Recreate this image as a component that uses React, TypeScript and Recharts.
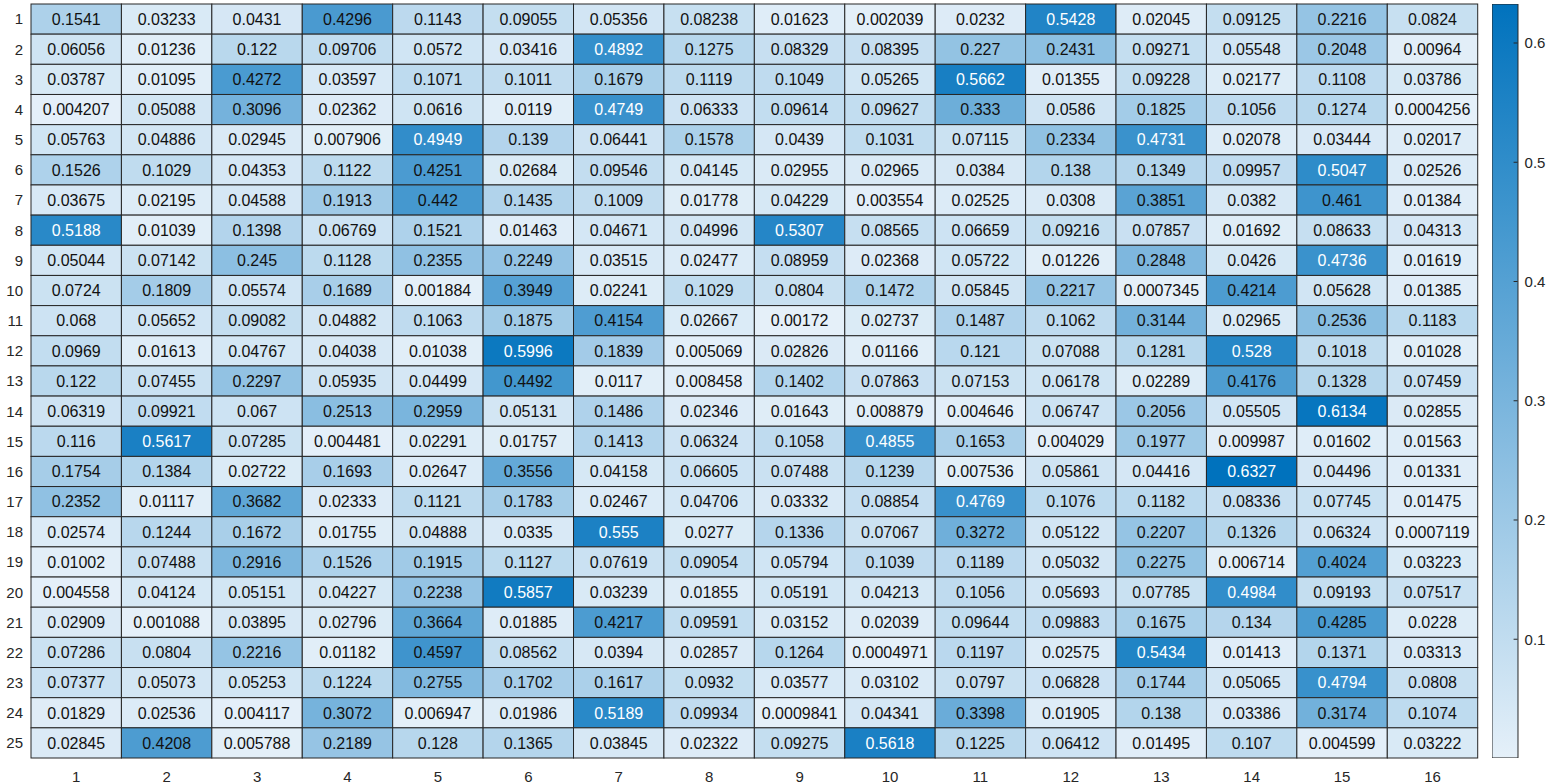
import { ScatterChart, Scatter, XAxis, YAxis, BarChart, Bar } from 'recharts'

const colLabels = [1, 2, 3, 4, 5, 6, 7, 8, 9, 10, 11, 12, 13, 14, 15, 16]
const rowLabels = [1, 2, 3, 4, 5, 6, 7, 8, 9, 10, 11, 12, 13, 14, 15, 16, 17, 18, 19, 20, 21, 22, 23, 24, 25]
const colorbarTicks = [0.1, 0.2, 0.3, 0.4, 0.5, 0.6]

const r1 = [0.1541, 0.03233, 0.0431, 0.4296, 0.1143, 0.09055, 0.05356, 0.08238, 0.01623, 0.002039, 0.0232, 0.5428, 0.02045, 0.09125, 0.2216, 0.0824]
const r2 = [0.06056, 0.01236, 0.122, 0.09706, 0.0572, 0.03416, 0.4892, 0.1275, 0.08329, 0.08395, 0.227, 0.2431, 0.09271, 0.05548, 0.2048, 0.00964]
const r3 = [0.03787, 0.01095, 0.4272, 0.03597, 0.1071, 0.1011, 0.1679, 0.1119, 0.1049, 0.05265, 0.5662, 0.01355, 0.09228, 0.02177, 0.1108, 0.03786]
const r4 = [0.004207, 0.05088, 0.3096, 0.02362, 0.0616, 0.0119, 0.4749, 0.06333, 0.09614, 0.09627, 0.333, 0.0586, 0.1825, 0.1056, 0.1274, 0.0004256]
const r5 = [0.05763, 0.04886, 0.02945, 0.007906, 0.4949, 0.139, 0.06441, 0.1578, 0.0439, 0.1031, 0.07115, 0.2334, 0.4731, 0.02078, 0.03444, 0.02017]
const r6 = [0.1526, 0.1029, 0.04353, 0.1122, 0.4251, 0.02684, 0.09546, 0.04145, 0.02955, 0.02965, 0.0384, 0.138, 0.1349, 0.09957, 0.5047, 0.02526]
const r7 = [0.03675, 0.02195, 0.04588, 0.1913, 0.442, 0.1435, 0.1009, 0.01778, 0.04229, 0.003554, 0.02525, 0.0308, 0.3851, 0.0382, 0.461, 0.01384]
const r8 = [0.5188, 0.01039, 0.1398, 0.06769, 0.1521, 0.01463, 0.04671, 0.04996, 0.5307, 0.08565, 0.06659, 0.09216, 0.07857, 0.01692, 0.08633, 0.04313]
const r9 = [0.05044, 0.07142, 0.245, 0.1128, 0.2355, 0.2249, 0.03515, 0.02477, 0.08959, 0.02368, 0.05722, 0.01226, 0.2848, 0.0426, 0.4736, 0.01619]
const r10 = [0.0724, 0.1809, 0.05574, 0.1689, 0.001884, 0.3949, 0.02241, 0.1029, 0.0804, 0.1472, 0.05845, 0.2217, 0.0007345, 0.4214, 0.05628, 0.01385]
const r11 = [0.068, 0.05652, 0.09082, 0.04882, 0.1063, 0.1875, 0.4154, 0.02667, 0.00172, 0.02737, 0.1487, 0.1062, 0.3144, 0.02965, 0.2536, 0.1183]
const r12 = [0.0969, 0.01613, 0.04767, 0.04038, 0.01038, 0.5996, 0.1839, 0.005069, 0.02826, 0.01166, 0.121, 0.07088, 0.1281, 0.528, 0.1018, 0.01028]
const r13 = [0.122, 0.07455, 0.2297, 0.05935, 0.04499, 0.4492, 0.0117, 0.008458, 0.1402, 0.07863, 0.07153, 0.06178, 0.02289, 0.4176, 0.1328, 0.07459]
const r14 = [0.06319, 0.09921, 0.067, 0.2513, 0.2959, 0.05131, 0.1486, 0.02346, 0.01643, 0.008879, 0.004646, 0.06747, 0.2056, 0.05505, 0.6134, 0.02855]
const r15 = [0.116, 0.5617, 0.07285, 0.004481, 0.02291, 0.01757, 0.1413, 0.06324, 0.1058, 0.4855, 0.1653, 0.004029, 0.1977, 0.009987, 0.01602, 0.01563]
const r16 = [0.1754, 0.1384, 0.02722, 0.1693, 0.02647, 0.3556, 0.04158, 0.06605, 0.07488, 0.1239, 0.007536, 0.05861, 0.04416, 0.6327, 0.04496, 0.01331]
const r17 = [0.2352, 0.01117, 0.3682, 0.02333, 0.1121, 0.1783, 0.02467, 0.04706, 0.03332, 0.08854, 0.4769, 0.1076, 0.1182, 0.08336, 0.07745, 0.01475]
const r18 = [0.02574, 0.1244, 0.1672, 0.01755, 0.04888, 0.0335, 0.555, 0.0277, 0.1336, 0.07067, 0.3272, 0.05122, 0.2207, 0.1326, 0.06324, 0.0007119]
const r19 = [0.01002, 0.07488, 0.2916, 0.1526, 0.1915, 0.1127, 0.07619, 0.09054, 0.05794, 0.1039, 0.1189, 0.05032, 0.2275, 0.006714, 0.4024, 0.03223]
const r20 = [0.004558, 0.04124, 0.05151, 0.04227, 0.2238, 0.5857, 0.03239, 0.01855, 0.05191, 0.04213, 0.1056, 0.05693, 0.07785, 0.4984, 0.09193, 0.07517]
const r21 = [0.02909, 0.001088, 0.03895, 0.02796, 0.3664, 0.01885, 0.4217, 0.09591, 0.03152, 0.02039, 0.09644, 0.09883, 0.1675, 0.134, 0.4285, 0.0228]
const r22 = [0.07286, 0.0804, 0.2216, 0.01182, 0.4597, 0.08562, 0.0394, 0.02857, 0.1264, 0.0004971, 0.1197, 0.02575, 0.5434, 0.01413, 0.1371, 0.03313]
const r23 = [0.07377, 0.05073, 0.05253, 0.1224, 0.2755, 0.1702, 0.1617, 0.0932, 0.03577, 0.03102, 0.0797, 0.06828, 0.1744, 0.05065, 0.4794, 0.0808]
const r24 = [0.01829, 0.02536, 0.004117, 0.3072, 0.006947, 0.01986, 0.5189, 0.09934, 0.0009841, 0.04341, 0.3398, 0.01905, 0.138, 0.03386, 0.3174, 0.1074]
const r25 = [0.02845, 0.4208, 0.005788, 0.2189, 0.128, 0.1365, 0.03845, 0.02322, 0.09275, 0.5618, 0.1225, 0.06412, 0.01495, 0.107, 0.004599, 0.03222]

const rows = [r1, r2, r3, r4, r5, r6, r7, r8, r9, r10, r11, r12, r13, r14, r15, r16, r17, r18, r19, r20, r21, r22, r23, r24, r25]

const FONT = '"Liberation Sans", Arial, sans-serif'
const AXIS_COLOR = '#262626'

// heatmap geometry
const W = 1480
const H = 784
const M = { top: 4, right: 2.3, bottom: 0, left: 0 }
const Y_AXIS_W = 31
const X_AXIS_H = 26
const CELL_W = (W - M.left - M.right - Y_AXIS_W) / colLabels.length
const CELL_H = (H - M.top - M.bottom - X_AXIS_H) / rowLabels.length

const allValues = rows.flat()
const vMin = Math.min(...allValues)
const vMax = Math.max(...allValues)

const light = [229, 240, 249]
const dark = [0, 114, 189]

function colorFor(v: number) {
  const t = Math.max(0, Math.min(1, (v - vMin) / (vMax - vMin)))
  const c = light.map((l, i) => Math.round(l + (dark[i] - l) * t))
  return `rgb(${c[0]},${c[1]},${c[2]})`
}

const cells = rows.flatMap((r, i) => r.map((v, j) => ({ x: colLabels[j], y: rowLabels[i], v })))

function HeatCell(props: any) {
  const { cx, cy, payload } = props
  const v = payload.v as number
  return (
    <g>
      <rect
        x={cx - CELL_W / 2}
        y={cy - CELL_H / 2}
        width={CELL_W}
        height={CELL_H}
        fill={colorFor(v)}
        stroke={AXIS_COLOR}
        strokeWidth={1}
      />
      <text
        x={cx}
        y={cy}
        dy="0.36em"
        textAnchor="middle"
        fontSize={16}
        fontFamily={FONT}
        fill={v > 0.465 ? '#ffffff' : '#111111'}
      >
        {String(v)}
      </text>
    </g>
  )
}

function XTick(props: any) {
  const { x, y, payload } = props
  return (
    <text x={x} y={y} dy="0.71em" textAnchor="middle" fontSize={15} fontFamily={FONT} fill={AXIS_COLOR}>
      {payload.value}
    </text>
  )
}

function YTick(props: any) {
  const { x, y, payload } = props
  return (
    <text x={x} y={y} dy="0.36em" textAnchor="end" fontSize={15} fontFamily={FONT} fill={AXIS_COLOR}>
      {payload.value}
    </text>
  )
}

function ColorbarTick(props: any) {
  const { x, y, payload } = props
  return (
    <g>
      <line x1={x - 4} y1={y} x2={x} y2={y} stroke={AXIS_COLOR} strokeWidth={1} />
      <text x={x + 7} y={y} dy="0.36em" textAnchor="start" fontSize={15} fontFamily={FONT} fill={AXIS_COLOR}>
        {payload.value}
      </text>
    </g>
  )
}

const colorbarData = [{ name: 'cb', range: [vMin, vMax] }]
const gradStops = [0, 0.25, 0.5, 0.75, 1]

export default function App() {
  return (
    <div style={{ position: 'absolute', left: 0, top: 0, width: 1552, height: 784, background: '#fff' }}>
      <div style={{ position: 'absolute', left: 0, top: 0 }}>
        <ScatterChart width={W} height={H} margin={M}>
          <XAxis
            type="number"
            dataKey="x"
            domain={[0.5, colLabels.length + 0.5]}
            ticks={colLabels}
            height={X_AXIS_H}
            axisLine={false}
            tickLine={false}
            tickSize={0}
            tickMargin={13}
            tick={XTick}
            interval={0}
          />
          <YAxis
            type="number"
            dataKey="y"
            domain={[0.5, rowLabels.length + 0.5]}
            ticks={rowLabels}
            reversed
            width={Y_AXIS_W}
            axisLine={false}
            tickLine={false}
            tickSize={0}
            tickMargin={8}
            tick={YTick}
            interval={0}
          />
          <Scatter data={cells} shape={HeatCell} isAnimationActive={false} />
        </ScatterChart>
      </div>
      <div style={{ position: 'absolute', left: 1491.7, top: 0 }}>
        <BarChart
          width={60.3}
          height={H}
          data={colorbarData}
          margin={{ top: 4, right: 0, bottom: 26, left: 0 }}
          barCategoryGap={0}
        >
          <defs>
            <linearGradient id="cbGrad" x1="0" y1="0" x2="0" y2="1">
              {gradStops.map((s) => (
                <stop key={s} offset={s} stopColor={colorFor(vMax - s * (vMax - vMin))} />
              ))}
            </linearGradient>
          </defs>
          <XAxis dataKey="name" hide />
          <YAxis
            orientation="right"
            type="number"
            domain={[vMin, vMax]}
            ticks={colorbarTicks}
            width={34.7}
            axisLine={false}
            tickLine={false}
            tickSize={0}
            tickMargin={0}
            tick={ColorbarTick}
            allowDataOverflow
          />
          <Bar dataKey="range" fill="url(#cbGrad)" stroke={AXIS_COLOR} strokeWidth={1} isAnimationActive={false} />
        </BarChart>
      </div>
    </div>
  )
}
